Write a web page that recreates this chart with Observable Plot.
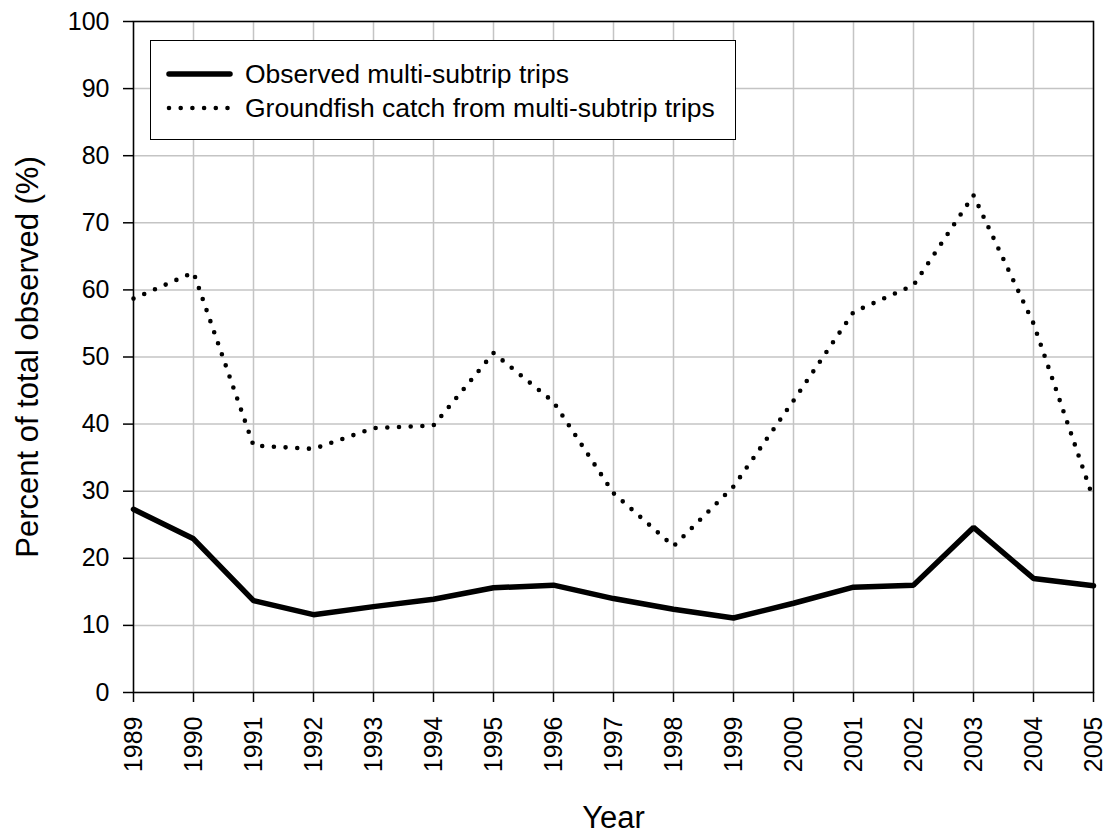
<!DOCTYPE html>
<html>
<head>
<meta charset="utf-8">
<script src="https://cdn.jsdelivr.net/npm/d3@7"></script>
<script src="https://cdn.jsdelivr.net/npm/@observablehq/plot@0.6"></script>
<style>
  html, body { margin: 0; padding: 0; background: #fff; }
  #wrap { position: relative; width: 1110px; height: 836px; font-family: "Liberation Sans", Arial, sans-serif; }
  #legend { position: absolute; left: 150px; top: 40px; width: 584px; height: 98px; border: 1.5px solid #000; background: #fff; }
  #legend svg { position: absolute; left: 0; top: 0; }
</style>
</head>
<body>
<div id="wrap"></div>
<script>
const years = [1989, 1990, 1991, 1992, 1993, 1994, 1995, 1996, 1997, 1998, 1999, 2000, 2001, 2002, 2003, 2004, 2005];
const observedTrips = [27.3, 22.9, 13.7, 11.6, 12.8, 13.9, 15.6, 16.0, 14.0, 12.4, 11.1, 13.3, 15.7, 16.0, 24.6, 17.0, 15.9];
const groundfishCatch = [58.7, 62.6, 36.8, 36.3, 39.4, 39.8, 50.6, 43.3, 29.7, 21.8, 30.7, 43.5, 56.7, 60.7, 74.1, 55.0, 28.8];
const yTicks = [0, 10, 20, 30, 40, 50, 60, 70, 80, 90, 100];
const seriesNames = ["Observed multi-subtrip trips", "Groundfish catch from multi-subtrip trips"];
const xTitle = "Year";
const yTitle = "Percent of total observed (%)";

const obsData = years.map((y, i) => ({year: y, value: observedTrips[i]}));
const gfData = years.map((y, i) => ({year: y, value: groundfishCatch[i]}));

const font = "'Liberation Sans', Arial, sans-serif";

const chart = Plot.plot({
  width: 1110,
  height: 836,
  marginLeft: 133,
  marginRight: 17,
  marginTop: 21,
  marginBottom: 144,
  style: {fontFamily: font, fontSize: "25px", color: "#000", background: "#fff"},
  x: {domain: [1989, 2005], ticks: years},
  y: {domain: [0, 100], ticks: yTicks},
  marks: [
    Plot.gridX(years, {stroke: "#c4c4c4", strokeOpacity: 1, strokeWidth: 1.5}),
    Plot.gridY(yTicks, {stroke: "#c4c4c4", strokeOpacity: 1, strokeWidth: 1.5}),
    Plot.frame({stroke: "#000", strokeWidth: 1.5}),
    Plot.axisX(years, {tickRotate: -90, tickSize: 10, tickPadding: 14, fontSize: 25, tickFormat: d => String(d), label: null, strokeWidth: 1.5}),
    Plot.axisY(yTicks, {tickSize: 10, tickPadding: 14, fontSize: 25, label: null, strokeWidth: 1.5}),
    Plot.line(gfData, {x: "year", y: "value", stroke: "#000", strokeWidth: 4.6, strokeDasharray: "0 11.7", strokeLinecap: "round"}),
    Plot.line(obsData, {x: "year", y: "value", stroke: "#000", strokeWidth: 5.5, strokeLinejoin: "miter"}),
    Plot.text([xTitle], {frameAnchor: "bottom", text: d => d, dy: 135, lineAnchor: "bottom", textAnchor: "middle", fontSize: 31}),
    Plot.text([yTitle], {frameAnchor: "left", text: d => d, dx: -96, rotate: -90, lineAnchor: "bottom", textAnchor: "middle", fontSize: 31})
  ]
});

const wrap = document.getElementById("wrap");
wrap.appendChild(chart);

// legend overlay (inside plot area)
const legend = document.createElement("div");
legend.id = "legend";
const ns = "http://www.w3.org/2000/svg";
const lsvg = document.createElementNS(ns, "svg");
lsvg.setAttribute("width", 584);
lsvg.setAttribute("height", 98);
const rows = [
  {name: seriesNames[0], dash: null, width: 5.5},
  {name: seriesNames[1], dash: "0 11.7", width: 4.6}
];
rows.forEach((r, i) => {
  const cy = 33 + i * 34;
  const ln = document.createElementNS(ns, "line");
  ln.setAttribute("x1", 18); ln.setAttribute("x2", i === 0 ? 79 : 77);
  ln.setAttribute("y1", cy); ln.setAttribute("y2", cy);
  ln.setAttribute("stroke", "#000");
  ln.setAttribute("stroke-width", r.width);
  ln.setAttribute("stroke-linecap", "round");
  if (r.dash) ln.setAttribute("stroke-dasharray", r.dash);
  lsvg.appendChild(ln);
  const t = document.createElementNS(ns, "text");
  t.setAttribute("x", 94);
  t.setAttribute("y", cy + 9);
  t.setAttribute("font-size", 26.5);
  t.setAttribute("font-family", font);
  t.textContent = r.name;
  lsvg.appendChild(t);
});
legend.appendChild(lsvg);
wrap.appendChild(legend);
</script>
</body>
</html>
